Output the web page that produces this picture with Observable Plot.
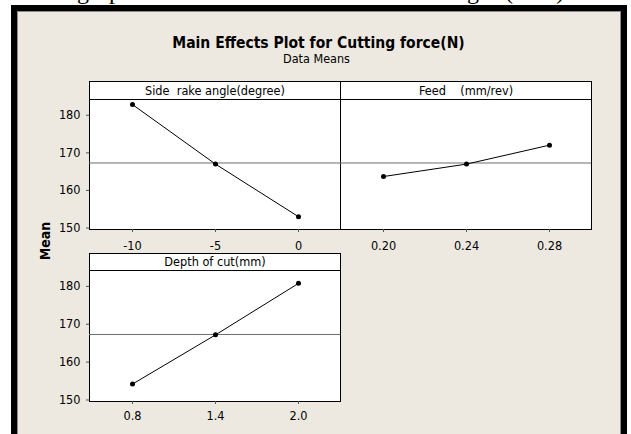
<!DOCTYPE html>
<html>
<head>
<meta charset="utf-8">
<script src="https://cdn.jsdelivr.net/npm/d3@7"></script>
<script src="https://cdn.jsdelivr.net/npm/@observablehq/plot@0.6"></script>
<style>
  html, body { margin: 0; padding: 0; background: #ffffff; }
  body {
    width: 631px; height: 434px; overflow: hidden; position: relative;
    font-family: "DejaVu Sans Condensed", "DejaVu Sans", sans-serif;
    font-stretch: condensed; color: #000;
  }
  #docline { position: absolute; left: 0; top: 0; width: 631px; height: 5px; overflow: hidden; }
  #docline span {
    position: absolute; top: -21px; font-family: "Liberation Serif", serif;
    font-size: 24px; line-height: 24px; white-space: pre; color: #000;
  }
  #frame {
    position: absolute; left: 11px; top: 5px; width: 616px; height: 460px;
    box-sizing: border-box; border: 6px solid #000; border-bottom: none;
  }
  #inner {
    position: absolute; left: 0; top: 0; right: 0; bottom: 0;
    border: 1px solid #8c8c8c; border-bottom: none; background: #EDE9E0;
  }
  .abs { position: absolute; }
  #title {
    left: 18px; width: 601px; top: 35.5px; text-align: center;
    font-weight: bold; font-size: 15.5px; line-height: 15.5px; white-space: nowrap;
  }
  #subtitle {
    left: 18px; width: 597px; top: 53.4px; text-align: center;
    font-size: 12.5px; line-height: 12.5px; white-space: nowrap;
  }
  .strip {
    position: absolute; box-sizing: border-box; border: 1px solid #000; background: #fff;
    font-size: 12.6px; text-align: center; white-space: pre; overflow: hidden;
  }
  #ylabel {
    left: 45px; top: 241px; transform: translate(-50%, -50%) rotate(-90deg);
    font-weight: bold; font-size: 14px; line-height: 14px; white-space: nowrap;
  }
  svg { overflow: visible; }
</style>
</head>
<body>
<div id="docline"><span style="left:77px;word-spacing:14px">g p</span><span style="left:467px;word-spacing:20px">g (N )</span></div>
<div id="frame"><div id="inner"></div></div>
<div id="title" class="abs">Main Effects Plot for Cutting force(N)</div>
<div id="subtitle" class="abs">Data Means</div>
<div id="ylabel" class="abs">Mean</div>
<script>
// ---- data ----
const rakeLabel = "Side  rake angle(degree)";
const rakeLevels = ["-10", "-5", "0"];
const rakeMeans = [182.85, 167.0, 153.0];

const feedLabel = "Feed    (mm/rev)";
const feedLevels = ["0.20", "0.24", "0.28"];
const feedMeans = [163.7, 167.0, 172.05];

const depthLabel = "Depth of cut(mm)";
const depthLevels = ["0.8", "1.4", "2.0"];
const depthMeans = [154.2, 167.2, 180.8];

const grandMean = [167.3];
const yTicks = [150, 160, 170, 180];
const yDomain = [149.6, 184.2];

const FONT = '"DejaVu Sans Condensed", "DejaVu Sans", sans-serif';

function panel({label, levels, means, plotLeft, plotTop, plotH, stripH, showY, padX}) {
  const data = levels.map((l, i) => ({level: l, mean: means[i]}));
  const mL = 45, mT = 1, mR = 1, mB = 30, plotW = 251;
  const chart = Plot.plot({
    width: mL + plotW + mR,
    height: mT + plotH + mB,
    marginLeft: mL, marginTop: mT, marginRight: mR, marginBottom: mB,
    style: {background: "none", fontFamily: FONT, fontSize: "12.6px", fontStretch: "condensed", overflow: "visible", color: "#000"},
    x: {type: "point", domain: levels, padding: 0.5, align: 0.5, label: null},
    y: {domain: yDomain, label: null, axis: showY ? undefined : null},
    marks: [
      Plot.frame({fill: "white", stroke: "black"}),
      Plot.ruleY(grandMean, {stroke: "#6e6e6e"}),
      Plot.line(data, {x: "level", y: "mean", stroke: "black", strokeWidth: 1}),
      Plot.dot(data, {x: "level", y: "mean", r: 2.5, fill: "black", stroke: "none"}),
      Plot.axisX({tickSize: 3, tickPadding: padX, label: null, stroke: "#555", fill: "black"}),
      showY ? Plot.axisY({ticks: yTicks, tickSize: 3, tickPadding: 6, label: null, stroke: "#555", fill: "black"}) : null
    ]
  });
  chart.style.position = "absolute";
  chart.style.left = (plotLeft - mL) + "px";
  chart.style.top = (plotTop - mT) + "px";
  document.body.appendChild(chart);

  const strip = document.createElement("div");
  strip.className = "strip";
  strip.textContent = label;
  strip.style.left = plotLeft + "px";
  strip.style.width = (plotW + 1) + "px";
  strip.style.top = (plotTop - stripH + 1) + "px";
  strip.style.height = stripH + "px";
  strip.style.lineHeight = (stripH - 2) + "px";
  document.body.appendChild(strip);
}

panel({label: rakeLabel, levels: rakeLevels, means: rakeMeans, plotLeft: 89, plotTop: 99, plotH: 130, stripH: 19, showY: true, padX: 9});
panel({label: feedLabel, levels: feedLevels, means: feedMeans, plotLeft: 340, plotTop: 99, plotH: 130, stripH: 19, showY: false, padX: 9});
panel({label: depthLabel, levels: depthLevels, means: depthMeans, plotLeft: 89, plotTop: 270, plotH: 131, stripH: 18, showY: true, padX: 7});
</script>
</body>
</html>
